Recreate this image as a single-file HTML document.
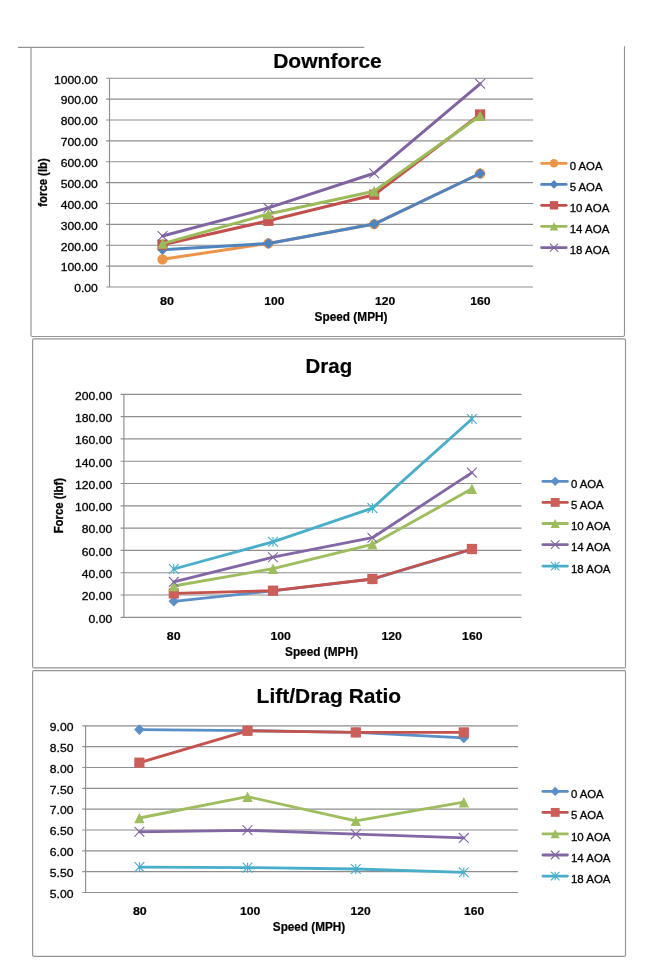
<!DOCTYPE html>
<html lang="en"><head><meta charset="utf-8"><title>Downforce, Drag and Lift/Drag Ratio</title>
<style>html,body{margin:0;padding:0;background:#fff}body{width:655px;height:980px;overflow:hidden}svg{display:block}text{font-family:'Liberation Sans', sans-serif;fill:#000}text.r{stroke:#000;stroke-width:.3px}text.b{stroke:#000;stroke-width:.3px}text.bb{stroke:#000;stroke-width:.2px}</style>
</head><body>
<svg width="655" height="980" viewBox="0 0 655 980">
<rect width="655" height="980" fill="#fff"/>
<line x1="18" y1="47.3" x2="364.3" y2="47.3" stroke="#939393" stroke-width="1.15"/>
<path d="M31 47.3V335A1.5 1.5 0 0 0 32.5 336.5H623A1.5 1.5 0 0 0 624.5 335V46.2" fill="none" stroke="#939393" stroke-width="1.15"/>
<rect x="32.6" y="338.9" width="592.9" height="329.0" rx="1.5" fill="none" stroke="#939393" stroke-width="1.15"/>
<rect x="32.6" y="670.6" width="592.9" height="285.8" rx="1.5" fill="none" stroke="#939393" stroke-width="1.15"/>
<line x1="106.2" y1="78.25" x2="533" y2="78.25" stroke="#8e8e8e" stroke-width="1.15"/>
<text x="53.96" y="83.55" font-size="11.7" class="r" textLength="43.84" lengthAdjust="spacingAndGlyphs">1000.00</text>
<line x1="106.2" y1="99.12" x2="533" y2="99.12" stroke="#8e8e8e" stroke-width="1.15"/>
<text x="60.7" y="104.42" font-size="11.7" class="r" textLength="37.1" lengthAdjust="spacingAndGlyphs">900.00</text>
<line x1="106.2" y1="120.0" x2="533" y2="120.0" stroke="#8e8e8e" stroke-width="1.15"/>
<text x="60.7" y="125.3" font-size="11.7" class="r" textLength="37.1" lengthAdjust="spacingAndGlyphs">800.00</text>
<line x1="106.2" y1="140.88" x2="533" y2="140.88" stroke="#8e8e8e" stroke-width="1.15"/>
<text x="60.7" y="146.18" font-size="11.7" class="r" textLength="37.1" lengthAdjust="spacingAndGlyphs">700.00</text>
<line x1="106.2" y1="161.75" x2="533" y2="161.75" stroke="#8e8e8e" stroke-width="1.15"/>
<text x="60.7" y="167.05" font-size="11.7" class="r" textLength="37.1" lengthAdjust="spacingAndGlyphs">600.00</text>
<line x1="106.2" y1="182.62" x2="533" y2="182.62" stroke="#8e8e8e" stroke-width="1.15"/>
<text x="60.7" y="187.92" font-size="11.7" class="r" textLength="37.1" lengthAdjust="spacingAndGlyphs">500.00</text>
<line x1="106.2" y1="203.5" x2="533" y2="203.5" stroke="#8e8e8e" stroke-width="1.15"/>
<text x="60.7" y="208.8" font-size="11.7" class="r" textLength="37.1" lengthAdjust="spacingAndGlyphs">400.00</text>
<line x1="106.2" y1="224.38" x2="533" y2="224.38" stroke="#8e8e8e" stroke-width="1.15"/>
<text x="60.7" y="229.68" font-size="11.7" class="r" textLength="37.1" lengthAdjust="spacingAndGlyphs">300.00</text>
<line x1="106.2" y1="245.25" x2="533" y2="245.25" stroke="#8e8e8e" stroke-width="1.15"/>
<text x="60.7" y="250.55" font-size="11.7" class="r" textLength="37.1" lengthAdjust="spacingAndGlyphs">200.00</text>
<line x1="106.2" y1="266.12" x2="533" y2="266.12" stroke="#8e8e8e" stroke-width="1.15"/>
<text x="60.7" y="271.42" font-size="11.7" class="r" textLength="37.1" lengthAdjust="spacingAndGlyphs">100.00</text>
<line x1="106.2" y1="287.0" x2="533" y2="287.0" stroke="#8e8e8e" stroke-width="1.15"/>
<text x="74.18" y="292.3" font-size="11.7" class="r" textLength="23.62" lengthAdjust="spacingAndGlyphs">0.00</text>
<line x1="109.5" y1="78.25" x2="109.5" y2="287.0" stroke="#8e8e8e" stroke-width="1.15"/>
<polyline points="162.5,259.3 268.4,243.4 374.2,224.05 480.1,173.5" fill="none" stroke="#ec9548" stroke-width="3.0" stroke-linejoin="round" stroke-linecap="round"/>
<circle cx="162.5" cy="259.3" r="5.17" fill="#ec9548"/>
<circle cx="268.4" cy="243.4" r="5.17" fill="#ec9548"/>
<circle cx="374.2" cy="224.05" r="5.17" fill="#ec9548"/>
<circle cx="480.1" cy="173.5" r="5.17" fill="#ec9548"/>
<polyline points="162.5,249.7 268.4,243.4 374.2,224.05 480.1,173.5" fill="none" stroke="#4f84c0" stroke-width="3.0" stroke-linejoin="round" stroke-linecap="round"/>
<path d="M157.21 249.7L162.5 244.41L167.79 249.7L162.5 254.99Z" fill="#4f84c0"/>
<path d="M263.11 243.4L268.4 238.11L273.69 243.4L268.4 248.69Z" fill="#4f84c0"/>
<path d="M368.91 224.05L374.2 218.76L379.49 224.05L374.2 229.34Z" fill="#4f84c0"/>
<path d="M474.81 173.5L480.1 168.21L485.39 173.5L480.1 178.79Z" fill="#4f84c0"/>
<polyline points="162.5,244.7 268.4,220.8 374.2,194.7 480.1,114.5" fill="none" stroke="#c24f4b" stroke-width="3.0" stroke-linejoin="round" stroke-linecap="round"/>
<rect x="157.38" y="239.58" width="10.23" height="10.23" fill="#c65752"/>
<rect x="263.28" y="215.68" width="10.23" height="10.23" fill="#c65752"/>
<rect x="369.08" y="189.58" width="10.23" height="10.23" fill="#c65752"/>
<rect x="474.98" y="109.38" width="10.23" height="10.23" fill="#c65752"/>
<polyline points="162.5,243.6 268.4,214 374.2,191.3 480.1,115.8" fill="none" stroke="#9bbb59" stroke-width="3.0" stroke-linejoin="round" stroke-linecap="round"/>
<path d="M162.5 238.42L167.68 248.78L157.32 248.78Z" fill="#9bbb59"/>
<path d="M268.4 208.82L273.57 219.18L263.22 219.18Z" fill="#9bbb59"/>
<path d="M374.2 186.12L379.38 196.48L369.02 196.48Z" fill="#9bbb59"/>
<path d="M480.1 110.62L485.28 120.97L474.93 120.97Z" fill="#9bbb59"/>
<polyline points="162.5,236 268.4,207.9 374.2,173.2 480.1,83.8" fill="none" stroke="#8064a2" stroke-width="3.0" stroke-linejoin="round" stroke-linecap="round"/>
<path d="M157.6 231.1L167.4 240.9M157.6 240.9L167.4 231.1" stroke="#8064a2" stroke-width="1.1" fill="none"/>
<path d="M263.5 203.0L273.3 212.8M263.5 212.8L273.3 203.0" stroke="#8064a2" stroke-width="1.1" fill="none"/>
<path d="M369.3 168.3L379.1 178.1M369.3 178.1L379.1 168.3" stroke="#8064a2" stroke-width="1.1" fill="none"/>
<path d="M475.2 78.9L485.0 88.7M475.2 88.7L485.0 78.9" stroke="#8064a2" stroke-width="1.1" fill="none"/>
<text x="160.0" y="305.3" font-size="11.7" font-weight="bold" class="bb" textLength="14.0" lengthAdjust="spacingAndGlyphs">80</text>
<text x="264.3" y="305.3" font-size="11.7" font-weight="bold" class="bb" textLength="20.1" lengthAdjust="spacingAndGlyphs">100</text>
<text x="375.1" y="305.3" font-size="11.7" font-weight="bold" class="bb" textLength="20.1" lengthAdjust="spacingAndGlyphs">120</text>
<text x="470.2" y="305.3" font-size="11.7" font-weight="bold" class="bb" textLength="20.4" lengthAdjust="spacingAndGlyphs">160</text>
<text x="314.6" y="320.5" font-size="12" font-weight="bold" class="bb" textLength="72.9" lengthAdjust="spacingAndGlyphs">Speed (MPH)</text>
<text x="273.2" y="67.7" font-size="21" font-weight="bold" class="bb" textLength="108.6" lengthAdjust="spacingAndGlyphs">Downforce</text>
<text transform="translate(47.2 206.7) rotate(-90) scale(1 1.04)" x="0" y="0" font-size="12.4" font-weight="bold" class="b" textLength="48.4" lengthAdjust="spacingAndGlyphs">force (lb)</text>
<line x1="541.6" y1="163.3" x2="566.2" y2="163.3" stroke="#ec9548" stroke-width="2.8" stroke-linecap="round"/>
<circle cx="554" cy="163.3" r="4.23" fill="#ec9548"/>
<text x="569.7" y="170.0" font-size="11.6" class="r" textLength="32.8" lengthAdjust="spacingAndGlyphs">0 AOA</text>
<line x1="541.6" y1="184.4" x2="566.2" y2="184.4" stroke="#4f84c0" stroke-width="2.8" stroke-linecap="round"/>
<path d="M549.68 184.4L554 180.08L558.32 184.4L554 188.72Z" fill="#4f84c0"/>
<text x="569.7" y="191.1" font-size="11.6" class="r" textLength="32.8" lengthAdjust="spacingAndGlyphs">5 AOA</text>
<line x1="541.6" y1="205.3" x2="566.2" y2="205.3" stroke="#c24f4b" stroke-width="2.8" stroke-linecap="round"/>
<rect x="549.82" y="201.12" width="8.37" height="8.37" fill="#c65752"/>
<text x="569.7" y="212.0" font-size="11.6" class="r" textLength="39.7" lengthAdjust="spacingAndGlyphs">10 AOA</text>
<line x1="541.6" y1="226.3" x2="566.2" y2="226.3" stroke="#9bbb59" stroke-width="2.8" stroke-linecap="round"/>
<path d="M554 222.07L558.23 230.53L549.77 230.53Z" fill="#9bbb59"/>
<text x="569.7" y="233.0" font-size="11.6" class="r" textLength="39.7" lengthAdjust="spacingAndGlyphs">14 AOA</text>
<line x1="541.6" y1="247.7" x2="566.2" y2="247.7" stroke="#8064a2" stroke-width="2.8" stroke-linecap="round"/>
<path d="M549.99 243.69L558.01 251.71M549.99 251.71L558.01 243.69" stroke="#8064a2" stroke-width="1.1" fill="none"/>
<text x="569.7" y="254.4" font-size="11.6" class="r" textLength="39.7" lengthAdjust="spacingAndGlyphs">18 AOA</text>
<line x1="120.6" y1="394.3" x2="521.5" y2="394.3" stroke="#8e8e8e" stroke-width="1.15"/>
<text x="75.1" y="399.6" font-size="11.7" class="r" textLength="37.1" lengthAdjust="spacingAndGlyphs">200.00</text>
<line x1="120.6" y1="416.6" x2="521.5" y2="416.6" stroke="#8e8e8e" stroke-width="1.15"/>
<text x="75.1" y="421.9" font-size="11.7" class="r" textLength="37.1" lengthAdjust="spacingAndGlyphs">180.00</text>
<line x1="120.6" y1="438.9" x2="521.5" y2="438.9" stroke="#8e8e8e" stroke-width="1.15"/>
<text x="75.1" y="444.2" font-size="11.7" class="r" textLength="37.1" lengthAdjust="spacingAndGlyphs">160.00</text>
<line x1="120.6" y1="461.2" x2="521.5" y2="461.2" stroke="#8e8e8e" stroke-width="1.15"/>
<text x="75.1" y="466.5" font-size="11.7" class="r" textLength="37.1" lengthAdjust="spacingAndGlyphs">140.00</text>
<line x1="120.6" y1="483.5" x2="521.5" y2="483.5" stroke="#8e8e8e" stroke-width="1.15"/>
<text x="75.1" y="488.8" font-size="11.7" class="r" textLength="37.1" lengthAdjust="spacingAndGlyphs">120.00</text>
<line x1="120.6" y1="505.8" x2="521.5" y2="505.8" stroke="#8e8e8e" stroke-width="1.15"/>
<text x="75.1" y="511.1" font-size="11.7" class="r" textLength="37.1" lengthAdjust="spacingAndGlyphs">100.00</text>
<line x1="120.6" y1="528.1" x2="521.5" y2="528.1" stroke="#8e8e8e" stroke-width="1.15"/>
<text x="81.84" y="533.4" font-size="11.7" class="r" textLength="30.36" lengthAdjust="spacingAndGlyphs">80.00</text>
<line x1="120.6" y1="550.4" x2="521.5" y2="550.4" stroke="#8e8e8e" stroke-width="1.15"/>
<text x="81.84" y="555.7" font-size="11.7" class="r" textLength="30.36" lengthAdjust="spacingAndGlyphs">60.00</text>
<line x1="120.6" y1="572.7" x2="521.5" y2="572.7" stroke="#8e8e8e" stroke-width="1.15"/>
<text x="81.84" y="578.0" font-size="11.7" class="r" textLength="30.36" lengthAdjust="spacingAndGlyphs">40.00</text>
<line x1="120.6" y1="595.0" x2="521.5" y2="595.0" stroke="#8e8e8e" stroke-width="1.15"/>
<text x="81.84" y="600.3" font-size="11.7" class="r" textLength="30.36" lengthAdjust="spacingAndGlyphs">20.00</text>
<line x1="120.6" y1="617.3" x2="521.5" y2="617.3" stroke="#8e8e8e" stroke-width="1.15"/>
<text x="88.58" y="622.6" font-size="11.7" class="r" textLength="23.62" lengthAdjust="spacingAndGlyphs">0.00</text>
<line x1="123.9" y1="394.3" x2="123.9" y2="617.3" stroke="#8e8e8e" stroke-width="1.15"/>
<polyline points="173.8,601.3 273.0,590.9 372.4,579.2 471.9,549.3" fill="none" stroke="#5a8fc8" stroke-width="2.85" stroke-linejoin="round" stroke-linecap="round"/>
<path d="M168.51 601.3L173.8 596.01L179.09 601.3L173.8 606.59Z" fill="#5a8fc8"/>
<path d="M267.71 590.9L273.0 585.61L278.29 590.9L273.0 596.19Z" fill="#5a8fc8"/>
<path d="M367.11 579.2L372.4 573.91L377.69 579.2L372.4 584.49Z" fill="#5a8fc8"/>
<path d="M466.61 549.3L471.9 544.01L477.19 549.3L471.9 554.59Z" fill="#5a8fc8"/>
<polyline points="173.8,593.4 273.0,590.7 372.4,579 471.9,549" fill="none" stroke="#c5534d" stroke-width="2.85" stroke-linejoin="round" stroke-linecap="round"/>
<rect x="168.68" y="588.28" width="10.23" height="10.23" fill="#cb605a"/>
<rect x="267.88" y="585.58" width="10.23" height="10.23" fill="#cb605a"/>
<rect x="367.28" y="573.88" width="10.23" height="10.23" fill="#cb605a"/>
<rect x="466.78" y="543.88" width="10.23" height="10.23" fill="#cb605a"/>
<polyline points="173.8,586.0 273.0,568.7 372.4,544.3 471.9,488.8" fill="none" stroke="#9ebd5e" stroke-width="2.85" stroke-linejoin="round" stroke-linecap="round"/>
<path d="M173.8 580.83L178.98 591.17L168.62 591.17Z" fill="#9ebd5e"/>
<path d="M273.0 563.53L278.18 573.88L267.82 573.88Z" fill="#9ebd5e"/>
<path d="M372.4 539.12L377.57 549.47L367.22 549.47Z" fill="#9ebd5e"/>
<path d="M471.9 483.62L477.07 493.98L466.72 493.98Z" fill="#9ebd5e"/>
<polyline points="173.8,581.9 273.0,557.2 372.4,537.7 471.9,472.6" fill="none" stroke="#8367a5" stroke-width="2.85" stroke-linejoin="round" stroke-linecap="round"/>
<path d="M168.9 577.0L178.7 586.8M168.9 586.8L178.7 577.0" stroke="#8367a5" stroke-width="1.1" fill="none"/>
<path d="M268.1 552.3L277.9 562.1M268.1 562.1L277.9 552.3" stroke="#8367a5" stroke-width="1.1" fill="none"/>
<path d="M367.5 532.8L377.3 542.6M367.5 542.6L377.3 532.8" stroke="#8367a5" stroke-width="1.1" fill="none"/>
<path d="M467.0 467.7L476.8 477.5M467.0 477.5L476.8 467.7" stroke="#8367a5" stroke-width="1.1" fill="none"/>
<polyline points="173.8,569.0 273.0,541.8 372.4,508.1 471.9,419" fill="none" stroke="#49aec9" stroke-width="2.85" stroke-linejoin="round" stroke-linecap="round"/>
<path d="M168.9 564.1L178.7 573.9M168.9 573.9L178.7 564.1M173.8 564.1L173.8 573.9" stroke="#49aec9" stroke-width="1.1" fill="none"/>
<path d="M268.1 536.9L277.9 546.7M268.1 546.7L277.9 536.9M273.0 536.9L273.0 546.7" stroke="#49aec9" stroke-width="1.1" fill="none"/>
<path d="M367.5 503.2L377.3 513.0M367.5 513.0L377.3 503.2M372.4 503.2L372.4 513.0" stroke="#49aec9" stroke-width="1.1" fill="none"/>
<path d="M467.0 414.1L476.8 423.9M467.0 423.9L476.8 414.1M471.9 414.1L471.9 423.9" stroke="#49aec9" stroke-width="1.1" fill="none"/>
<text x="166.8" y="640.1" font-size="11.7" font-weight="bold" class="bb" textLength="13.8" lengthAdjust="spacingAndGlyphs">80</text>
<text x="270.4" y="640.1" font-size="11.7" font-weight="bold" class="bb" textLength="20.5" lengthAdjust="spacingAndGlyphs">100</text>
<text x="381.5" y="640.1" font-size="11.7" font-weight="bold" class="bb" textLength="20.4" lengthAdjust="spacingAndGlyphs">120</text>
<text x="462.1" y="640.1" font-size="11.7" font-weight="bold" class="bb" textLength="20.4" lengthAdjust="spacingAndGlyphs">160</text>
<text x="285" y="655.5" font-size="12" font-weight="bold" class="bb" textLength="72.9" lengthAdjust="spacingAndGlyphs">Speed (MPH)</text>
<text x="305.6" y="372.8" font-size="21" font-weight="bold" class="bb" textLength="46.6" lengthAdjust="spacingAndGlyphs">Drag</text>
<text transform="translate(62.8 533.3) rotate(-90) scale(1 1.04)" x="0" y="0" font-size="12.4" font-weight="bold" class="b" textLength="55.3" lengthAdjust="spacingAndGlyphs">Force (lbf)</text>
<line x1="542.9" y1="481.3" x2="567.4" y2="481.3" stroke="#5a8fc8" stroke-width="2.8" stroke-linecap="round"/>
<path d="M550.6 481.3L555.2 476.7L559.8 481.3L555.2 485.9Z" fill="#5a8fc8"/>
<text x="570.9" y="488.0" font-size="11.6" class="r" textLength="32.8" lengthAdjust="spacingAndGlyphs">0 AOA</text>
<line x1="542.9" y1="502.4" x2="567.4" y2="502.4" stroke="#c5534d" stroke-width="2.8" stroke-linecap="round"/>
<rect x="550.75" y="497.95" width="8.9" height="8.9" fill="#cb605a"/>
<text x="570.9" y="509.1" font-size="11.6" class="r" textLength="32.8" lengthAdjust="spacingAndGlyphs">5 AOA</text>
<line x1="542.9" y1="523.5" x2="567.4" y2="523.5" stroke="#9ebd5e" stroke-width="2.8" stroke-linecap="round"/>
<path d="M555.2 519.0L559.7 528.0L550.7 528.0Z" fill="#9ebd5e"/>
<text x="570.9" y="530.2" font-size="11.6" class="r" textLength="39.6" lengthAdjust="spacingAndGlyphs">10 AOA</text>
<line x1="542.9" y1="544.7" x2="567.4" y2="544.7" stroke="#8367a5" stroke-width="2.8" stroke-linecap="round"/>
<path d="M550.94 540.44L559.46 548.96M550.94 548.96L559.46 540.44" stroke="#8367a5" stroke-width="1.1" fill="none"/>
<text x="570.9" y="551.4" font-size="11.6" class="r" textLength="39.6" lengthAdjust="spacingAndGlyphs">14 AOA</text>
<line x1="542.9" y1="566.1" x2="567.4" y2="566.1" stroke="#49aec9" stroke-width="2.8" stroke-linecap="round"/>
<path d="M550.94 561.84L559.46 570.36M550.94 570.36L559.46 561.84M555.2 561.84L555.2 570.36" stroke="#49aec9" stroke-width="1.1" fill="none"/>
<text x="570.9" y="572.8" font-size="11.6" class="r" textLength="39.6" lengthAdjust="spacingAndGlyphs">18 AOA</text>
<line x1="82.3" y1="725.8" x2="518" y2="725.8" stroke="#8e8e8e" stroke-width="1.15"/>
<text x="49.78" y="731.1" font-size="11.7" class="r" textLength="23.62" lengthAdjust="spacingAndGlyphs">9.00</text>
<line x1="82.3" y1="746.64" x2="518" y2="746.64" stroke="#8e8e8e" stroke-width="1.15"/>
<text x="49.78" y="751.94" font-size="11.7" class="r" textLength="23.62" lengthAdjust="spacingAndGlyphs">8.50</text>
<line x1="82.3" y1="767.47" x2="518" y2="767.47" stroke="#8e8e8e" stroke-width="1.15"/>
<text x="49.78" y="772.77" font-size="11.7" class="r" textLength="23.62" lengthAdjust="spacingAndGlyphs">8.00</text>
<line x1="82.3" y1="788.31" x2="518" y2="788.31" stroke="#8e8e8e" stroke-width="1.15"/>
<text x="49.78" y="793.61" font-size="11.7" class="r" textLength="23.62" lengthAdjust="spacingAndGlyphs">7.50</text>
<line x1="82.3" y1="809.15" x2="518" y2="809.15" stroke="#8e8e8e" stroke-width="1.15"/>
<text x="49.78" y="814.45" font-size="11.7" class="r" textLength="23.62" lengthAdjust="spacingAndGlyphs">7.00</text>
<line x1="82.3" y1="829.99" x2="518" y2="829.99" stroke="#8e8e8e" stroke-width="1.15"/>
<text x="49.78" y="835.29" font-size="11.7" class="r" textLength="23.62" lengthAdjust="spacingAndGlyphs">6.50</text>
<line x1="82.3" y1="850.83" x2="518" y2="850.83" stroke="#8e8e8e" stroke-width="1.15"/>
<text x="49.78" y="856.13" font-size="11.7" class="r" textLength="23.62" lengthAdjust="spacingAndGlyphs">6.00</text>
<line x1="82.3" y1="871.66" x2="518" y2="871.66" stroke="#8e8e8e" stroke-width="1.15"/>
<text x="49.78" y="876.96" font-size="11.7" class="r" textLength="23.62" lengthAdjust="spacingAndGlyphs">5.50</text>
<line x1="82.3" y1="892.5" x2="518" y2="892.5" stroke="#8e8e8e" stroke-width="1.15"/>
<text x="49.78" y="897.8" font-size="11.7" class="r" textLength="23.62" lengthAdjust="spacingAndGlyphs">5.00</text>
<line x1="85.6" y1="725.8" x2="85.6" y2="892.5" stroke="#8e8e8e" stroke-width="1.15"/>
<polyline points="139.4,729.6 247.5,730.6 355.8,732.4 463.8,737.9" fill="none" stroke="#5a8fc8" stroke-width="2.85" stroke-linejoin="round" stroke-linecap="round"/>
<path d="M134.11 729.6L139.4 724.31L144.69 729.6L139.4 734.89Z" fill="#5a8fc8"/>
<path d="M242.21 730.6L247.5 725.31L252.79 730.6L247.5 735.89Z" fill="#5a8fc8"/>
<path d="M350.51 732.4L355.8 727.11L361.09 732.4L355.8 737.69Z" fill="#5a8fc8"/>
<path d="M458.51 737.9L463.8 732.61L469.09 737.9L463.8 743.19Z" fill="#5a8fc8"/>
<polyline points="139.4,762.7 247.5,730.8 355.8,732.4 463.8,732.4" fill="none" stroke="#c5534d" stroke-width="2.85" stroke-linejoin="round" stroke-linecap="round"/>
<rect x="134.28" y="757.58" width="10.23" height="10.23" fill="#cb605a"/>
<rect x="242.38" y="725.68" width="10.23" height="10.23" fill="#cb605a"/>
<rect x="350.68" y="727.28" width="10.23" height="10.23" fill="#cb605a"/>
<rect x="458.68" y="727.28" width="10.23" height="10.23" fill="#cb605a"/>
<polyline points="139.4,818 247.5,796.7 355.8,820.9 463.8,802.2" fill="none" stroke="#9ebd5e" stroke-width="2.85" stroke-linejoin="round" stroke-linecap="round"/>
<path d="M139.4 812.83L144.58 823.17L134.22 823.17Z" fill="#9ebd5e"/>
<path d="M247.5 791.53L252.68 801.88L242.32 801.88Z" fill="#9ebd5e"/>
<path d="M355.8 815.73L360.98 826.07L350.62 826.07Z" fill="#9ebd5e"/>
<path d="M463.8 797.03L468.98 807.38L458.62 807.38Z" fill="#9ebd5e"/>
<polyline points="139.4,831.8 247.5,830.3 355.8,834.1 463.8,837.9" fill="none" stroke="#8367a5" stroke-width="2.85" stroke-linejoin="round" stroke-linecap="round"/>
<path d="M134.5 826.9L144.3 836.7M134.5 836.7L144.3 826.9" stroke="#8367a5" stroke-width="1.1" fill="none"/>
<path d="M242.6 825.4L252.4 835.2M242.6 835.2L252.4 825.4" stroke="#8367a5" stroke-width="1.1" fill="none"/>
<path d="M350.9 829.2L360.7 839.0M350.9 839.0L360.7 829.2" stroke="#8367a5" stroke-width="1.1" fill="none"/>
<path d="M458.9 833.0L468.7 842.8M458.9 842.8L468.7 833.0" stroke="#8367a5" stroke-width="1.1" fill="none"/>
<polyline points="139.4,867.1 247.5,867.6 355.8,869 463.8,872.3" fill="none" stroke="#49aec9" stroke-width="2.85" stroke-linejoin="round" stroke-linecap="round"/>
<path d="M134.5 862.2L144.3 872.0M134.5 872.0L144.3 862.2M139.4 862.2L139.4 872.0" stroke="#49aec9" stroke-width="1.1" fill="none"/>
<path d="M242.6 862.7L252.4 872.5M242.6 872.5L252.4 862.7M247.5 862.7L247.5 872.5" stroke="#49aec9" stroke-width="1.1" fill="none"/>
<path d="M350.9 864.1L360.7 873.9M350.9 873.9L360.7 864.1M355.8 864.1L355.8 873.9" stroke="#49aec9" stroke-width="1.1" fill="none"/>
<path d="M458.9 867.4L468.7 877.2M458.9 877.2L468.7 867.4M463.8 867.4L463.8 877.2" stroke="#49aec9" stroke-width="1.1" fill="none"/>
<text x="132.9" y="915.2" font-size="11.7" font-weight="bold" class="bb" textLength="13.8" lengthAdjust="spacingAndGlyphs">80</text>
<text x="240.0" y="915.2" font-size="11.7" font-weight="bold" class="bb" textLength="20.4" lengthAdjust="spacingAndGlyphs">100</text>
<text x="350.6" y="915.2" font-size="11.7" font-weight="bold" class="bb" textLength="20.1" lengthAdjust="spacingAndGlyphs">120</text>
<text x="464.1" y="915.2" font-size="11.7" font-weight="bold" class="bb" textLength="20.1" lengthAdjust="spacingAndGlyphs">160</text>
<text x="272.8" y="930.5" font-size="12" font-weight="bold" class="bb" textLength="72.4" lengthAdjust="spacingAndGlyphs">Speed (MPH)</text>
<text x="256.6" y="703.1" font-size="21" font-weight="bold" class="bb" textLength="144.6" lengthAdjust="spacingAndGlyphs">Lift/Drag Ratio</text>
<line x1="542.9" y1="791.4" x2="567.4" y2="791.4" stroke="#5a8fc8" stroke-width="2.8" stroke-linecap="round"/>
<path d="M550.6 791.4L555.2 786.8L559.8 791.4L555.2 796.0Z" fill="#5a8fc8"/>
<text x="570.9" y="798.1" font-size="11.6" class="r" textLength="32.8" lengthAdjust="spacingAndGlyphs">0 AOA</text>
<line x1="542.9" y1="812.4" x2="567.4" y2="812.4" stroke="#c5534d" stroke-width="2.8" stroke-linecap="round"/>
<rect x="550.75" y="807.95" width="8.9" height="8.9" fill="#cb605a"/>
<text x="570.9" y="819.1" font-size="11.6" class="r" textLength="32.8" lengthAdjust="spacingAndGlyphs">5 AOA</text>
<line x1="542.9" y1="833.8" x2="567.4" y2="833.8" stroke="#9ebd5e" stroke-width="2.8" stroke-linecap="round"/>
<path d="M555.2 829.3L559.7 838.3L550.7 838.3Z" fill="#9ebd5e"/>
<text x="570.9" y="840.5" font-size="11.6" class="r" textLength="39.6" lengthAdjust="spacingAndGlyphs">10 AOA</text>
<line x1="542.9" y1="855" x2="567.4" y2="855" stroke="#8367a5" stroke-width="2.8" stroke-linecap="round"/>
<path d="M550.94 850.74L559.46 859.26M550.94 859.26L559.46 850.74" stroke="#8367a5" stroke-width="1.1" fill="none"/>
<text x="570.9" y="861.7" font-size="11.6" class="r" textLength="39.6" lengthAdjust="spacingAndGlyphs">14 AOA</text>
<line x1="542.9" y1="876.1" x2="567.4" y2="876.1" stroke="#49aec9" stroke-width="2.8" stroke-linecap="round"/>
<path d="M550.94 871.84L559.46 880.36M550.94 880.36L559.46 871.84M555.2 871.84L555.2 880.36" stroke="#49aec9" stroke-width="1.1" fill="none"/>
<text x="570.9" y="882.8" font-size="11.6" class="r" textLength="39.6" lengthAdjust="spacingAndGlyphs">18 AOA</text>
</svg></body></html>
